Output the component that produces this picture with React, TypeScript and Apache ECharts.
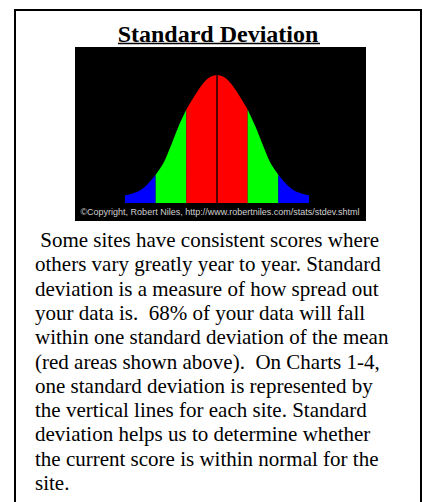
import React, { useEffect, useRef } from "react";
import * as echarts from "echarts";

const titleText = "Standard Deviation";
const copyrightText = "\u00A9Copyright, Robert Niles, http://www.robertniles.com/stats/stdev.shtml";
const paragraphLines = [
  " Some sites have consistent scores where",
  "others vary greatly year to year. Standard",
  "deviation is a measure of how spread out",
  "your data is.  68% of your data will fall",
  "within one standard deviation of the mean",
  "(red areas shown above).  On Charts 1-4,",
  "one standard deviation is represented by",
  "the vertical lines for each site. Standard",
  "deviation helps us to determine whether",
  "the current score is within normal for the",
  "site.",
];

// Curve: x in standard deviations, height relative to peak
const sigmaX = [-3, -2.75, -2.5, -2.25, -2, -1.75, -1.5, -1.25, -1, -0.75, -0.5, -0.25, 0, 0.25, 0.5, 0.75, 1, 1.25, 1.5, 1.75, 2, 2.25, 2.5, 2.75, 3];
const heights = [0.06, 0.075, 0.1, 0.15, 0.22, 0.31, 0.45, 0.6, 0.73, 0.83, 0.92, 0.98, 1.0, 0.98, 0.92, 0.83, 0.73, 0.6, 0.45, 0.31, 0.22, 0.15, 0.1, 0.075, 0.06];
const bands = [
  { from: -3, to: -2, color: "#0000ff" },
  { from: -2, to: -1, color: "#00ff00" },
  { from: -1, to: 1, color: "#ff0000" },
  { from: 1, to: 2, color: "#00ff00" },
  { from: 2, to: 3, color: "#0000ff" },
];

export default function App() {
  const ref = useRef<HTMLDivElement>(null);
  useEffect(() => {
    const chart = echarts.init(ref.current!, null, { renderer: "svg" });
    const serif = "'Liberation Serif', 'Times New Roman', serif";
    const series: any[] = bands.map((b, i) => ({
      type: "line",
      data: sigmaX
        .map((x, k) => [x, heights[k]])
        .filter((p) => p[0] >= b.from && p[0] <= b.to),
      symbol: "none",
      smooth: 0.3,
      lineStyle: { width: 0, color: b.color },
      itemStyle: { color: b.color },
      areaStyle: { color: b.color, opacity: 1 },
      z: 3,
      markLine:
        i === 2
          ? {
              symbol: "none",
              silent: true,
              label: { show: false },
              lineStyle: { color: "#1a0000", width: 1.5, type: "solid" },
              data: [{ xAxis: 0 }],
            }
          : undefined,
    }));
    const graphics: any[] = [
      {
        type: "rect",
        shape: { x: 15, y: 10, width: 406, height: 500 },
        style: { fill: "none", stroke: "#000", lineWidth: 2 },
        z: 1,
      },
      {
        type: "rect",
        shape: { x: 75, y: 47, width: 291, height: 174 },
        style: { fill: "#000" },
        z: 0,
      },
      {
        type: "text",
        x: 218,
        y: 34,
        style: {
          text: titleText,
          font: `bold 24px ${serif}`,
          fill: "#000",
          textAlign: "center",
          textVerticalAlign: "middle",
        },
        z: 10,
      },
      {
        type: "line",
        shape: { x1: 118, y1: 43.5, x2: 320, y2: 43.5 },
        style: { stroke: "#000", lineWidth: 1.5 },
        z: 10,
      },
      {
        type: "text",
        x: 220,
        y: 212,
        style: {
          text: copyrightText,
          font: "9px 'Liberation Sans', Arial, sans-serif",
          fill: "#d0d0d0",
          textAlign: "center",
          textVerticalAlign: "middle",
        },
        z: 5,
      },
      ...paragraphLines.map((line, i) => ({
        type: "text",
        x: 35,
        y: 240 + i * 24.3,
        style: {
          text: line,
          font: `21px ${serif}`,
          fill: "#000",
          textAlign: "left",
          textVerticalAlign: "middle",
        },
        z: 10,
      })),
    ];
    chart.setOption({
      animation: false,
      backgroundColor: "#fff",
      grid: { left: 125, top: 75, width: 184, height: 128, containLabel: false },
      xAxis: { type: "value", min: -3, max: 3, show: false },
      yAxis: { type: "value", min: 0, max: 1, show: false },
      series,
      graphic: { elements: graphics },
    });
    return () => chart.dispose();
  }, []);
  return (
    <div
      ref={ref}
      style={{ position: "fixed", left: 0, top: 0, width: 424, height: 502 }}
    />
  );
}
